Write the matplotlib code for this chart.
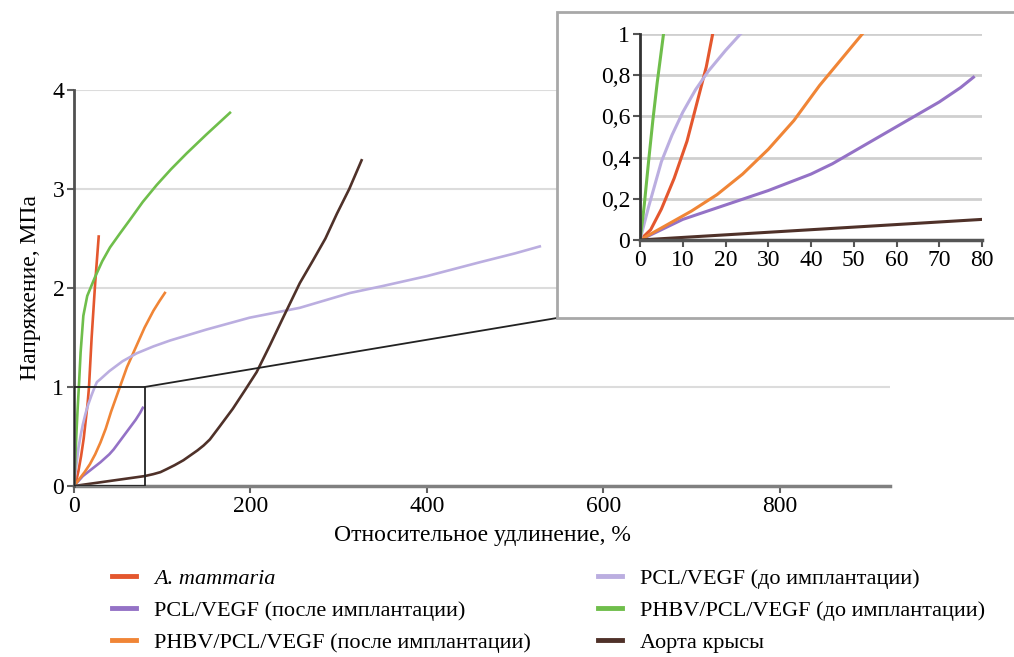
import matplotlib
matplotlib.use("Agg")
import matplotlib.pyplot as plt
from matplotlib.patches import Rectangle, ConnectionPatch
from matplotlib.lines import Line2D

plt.rcParams['font.family'] = ['Liberation Serif', 'DejaVu Serif']

# data (strain %, stress MPa)
mammaria_x = [0, 2.5, 5, 8, 11, 13.5, 15.5, 17, 20, 24, 28]
mammaria_y = [0, 0.05, 0.15, 0.3, 0.48, 0.68, 0.84, 1.0, 1.5, 2.05, 2.52]

pcl_after_x = [0, 5, 10, 15, 20, 25, 30, 35, 40, 45, 50, 55, 60, 65, 70, 75, 78]
pcl_after_y = [0, 0.05, 0.1, 0.135, 0.17, 0.205, 0.24, 0.28, 0.32, 0.37, 0.43, 0.49, 0.55, 0.61, 0.67, 0.74, 0.79]

phbv_after_x = [0, 6, 12, 18, 24, 30, 36, 42, 48, 52, 60, 70, 80, 90, 97, 103]
phbv_after_y = [0, 0.07, 0.14, 0.22, 0.32, 0.44, 0.58, 0.75, 0.9, 1.0, 1.2, 1.4, 1.6, 1.77, 1.87, 1.95]

pcl_before_x = [0, 2, 5, 7.5, 10, 13, 16, 20, 23.5, 26, 30, 40, 55, 71, 90, 109, 150, 199,
                256, 313, 350, 400, 460, 500, 528]
pcl_before_y = [0, 0.16, 0.38, 0.51, 0.62, 0.73, 0.82, 0.92, 1.0, 1.05, 1.08, 1.16, 1.26, 1.34,
                1.41, 1.47, 1.58, 1.7, 1.8, 1.95, 2.02, 2.12, 2.26, 2.35, 2.42]

phbv_before_x = [0, 0.5, 1, 2, 3, 4, 5.5, 7.5, 10.6, 15, 23.8, 32, 40.8, 52, 63.5, 78, 93.7,
                 110, 127.7, 150, 176.8]
phbv_before_y = [0, 0.08, 0.17, 0.38, 0.58, 0.76, 1.0, 1.35, 1.72, 1.92, 2.11, 2.27, 2.41, 2.55,
                 2.69, 2.87, 3.04, 3.2, 3.36, 3.55, 3.77]

aorta_x = [0, 20, 40, 60, 80, 90, 98, 105, 114, 124, 132, 140, 147, 154, 165, 180, 194, 207,
           222, 237, 256, 271, 285, 298, 312, 326]
aorta_y = [0, 0.025, 0.05, 0.075, 0.1, 0.12, 0.14, 0.17, 0.21, 0.26, 0.31, 0.36, 0.41, 0.47,
           0.6, 0.78, 0.97, 1.15, 1.42, 1.7, 2.05, 2.28, 2.5, 2.75, 3.0, 3.29]

series = [
    ('A. mammaria', mammaria_x, mammaria_y, '#e4572e', 'italic'),
    ('PCL/VEGF (после имплантации)', pcl_after_x, pcl_after_y, '#9472c6', 'normal'),
    ('PHBV/PCL/VEGF (после имплантации)', phbv_after_x, phbv_after_y, '#f08536', 'normal'),
    ('PCL/VEGF (до имплантации)', pcl_before_x, pcl_before_y, '#bbaee0', 'normal'),
    ('PHBV/PCL/VEGF (до имплантации)', phbv_before_x, phbv_before_y, '#6fbe4b', 'normal'),
    ('Аорта крысы', aorta_x, aorta_y, '#4f3129', 'normal'),
]

main_xticks = [0, 200, 400, 600, 800]
main_yticks = [0, 1, 2, 3, 4]
inset_xticks = [0, 10, 20, 30, 40, 50, 60, 70, 80]
inset_yticks = [0, 0.2, 0.4, 0.6, 0.8, 1.0]
inset_ylabels = ['0', '0,2', '0,4', '0,6', '0,8', '1']

W, H = 1014, 657
fig = plt.figure(figsize=(W / 100, H / 100), dpi=100)

# main axes
ax = fig.add_axes([74 / W, 1 - 486 / H, 816 / W, 396 / H], zorder=0)
for name, x, y, c, st in series:
    ax.plot(x, y, color=c, lw=1.9, solid_joinstyle='round')
ax.set_xlim(0, 925)
ax.set_ylim(0, 4)
ax.set_xticks(main_xticks)
ax.set_yticks(main_yticks)
ax.grid(axis='y', color='#dcdcdc', lw=1.5)
ax.set_axisbelow(True)
for s in ['top', 'right']:
    ax.spines[s].set_visible(False)
ax.spines['left'].set_color('#505050')
ax.spines['bottom'].set_color('#808080')
ax.spines['left'].set_linewidth(2)
ax.spines['bottom'].set_linewidth(2.5)
ax.tick_params(axis='both', labelsize=17, length=5, width=1.5, color='#606060', pad=2)
ax.set_xlabel('Относительное удлинение, %', fontsize=17, labelpad=6)
ax.set_ylabel('Напряжение, МПа', fontsize=17, labelpad=8)
ax.spines['left'].set_zorder(3)

# zoom region on the main axes
ax.add_patch(Rectangle((0, 0), 80, 1, fill=False, edgecolor='#222222', lw=1.3, zorder=4))

# inset frame
box = Rectangle((557 / W, 1 - 318 / H), 480 / W, 306 / H, transform=fig.transFigure,
                facecolor='white', edgecolor='#a8a8a8', lw=2, zorder=1)
fig.add_artist(box)
con = ConnectionPatch(xyA=(80, 1), coordsA=ax.transData,
                      xyB=(557 / W, 1 - 318 / H), coordsB=fig.transFigure,
                      color='#222222', lw=1.3, zorder=0.5)
fig.add_artist(con)

# inset axes
ins = fig.add_axes([640 / W, 1 - 240 / H, 342 / W, 206 / H], zorder=2)
ins.patch.set_alpha(0)
for name, x, y, c, st in series:
    ins.plot(x, y, color=c, lw=2.2, solid_joinstyle='round')
ins.set_xlim(0, 80)
ins.set_ylim(0, 1)
ins.set_xticks(inset_xticks)
ins.set_yticks(inset_yticks)
ins.set_yticklabels(inset_ylabels)
ins.grid(axis='y', color='#cfcfcf', lw=2)
ins.set_axisbelow(True)
for s in ['top', 'right']:
    ins.spines[s].set_visible(False)
ins.spines['left'].set_color('#333333')
ins.spines['bottom'].set_color('#555555')
ins.spines['left'].set_linewidth(2)
ins.spines['bottom'].set_linewidth(2.5)
ins.tick_params(axis='both', labelsize=17, length=5, width=1.5, color='#555555', pad=2)

# legend in two columns
def make_legend(items, x0):
    handles = [Line2D([], [], color=c, lw=3.5) for _, _, _, c, _ in items]
    labels = [n for n, _, _, _, _ in items]
    leg = fig.legend(handles, labels, loc='upper left', bbox_to_anchor=(x0, 1 - 568 / H),
                     frameon=False, fontsize=16, handlelength=1.1, handletextpad=0.8,
                     labelspacing=0.52, borderaxespad=0, borderpad=0)
    for t, (_, _, _, _, st) in zip(leg.get_texts(), items):
        t.set_fontstyle(st)
    return leg

make_legend(series[:3], 112 / W)
make_legend(series[3:], 598 / W)

fig.savefig('out.png', dpi=100)
